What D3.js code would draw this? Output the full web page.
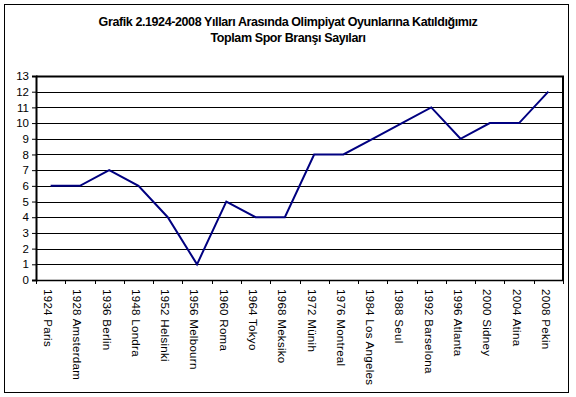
<!DOCTYPE html>
<html>
<head>
<meta charset="utf-8">
<script src="https://cdn.jsdelivr.net/npm/d3@7"></script>
<style>
  body { margin: 0; background: #fff; }
  svg { display: block; font-family: "Liberation Sans", Arial, sans-serif; }
</style>
</head>
<body>
<svg id="chart" width="576" height="397"></svg>
<script>
var cities = ["1924 Paris", "1928 Amsterdam", "1936 Berlin", "1948 Londra", "1952 Helsinki",
  "1956 Melbourn", "1960 Roma", "1964 Tokyo", "1968 Meksiko", "1972 Münih", "1976 Montreal",
  "1984 Los Angeles", "1988 Seul", "1992 Barselona", "1996 Atlanta", "2000 Sidney",
  "2004 Atina", "2008 Pekin"];
var branches = [6, 6, 7, 6, 4, 1, 5, 4, 4, 8, 8, 9, 10, 11, 9, 10, 10, 12];
var yTicks = d3.range(0, 14);
var titleLines = ["Grafik 2.1924-2008 Yılları Arasında Olimpiyat Oyunlarına Katıldığımız",
  "Toplam Spor Branşı Sayıları"];

(function(){

var svg = d3.select("#chart");
var plotLeft = 36, plotRight = 563, plotTop = 76, plotBottom = 280;

// outer frame
svg.append("rect").attr("x", 4.5).attr("y", 4.5).attr("width", 564).attr("height", 388)
  .attr("fill", "#fff").attr("stroke", "#000").attr("stroke-width", 1);

svg.selectAll("text.title").data(titleLines).enter().append("text")
  .attr("class", "title")
  .attr("x", 288).attr("y", function(d, i) { return 26 + i * 16; })
  .attr("text-anchor", "middle")
  .attr("font-size", 12.5).attr("font-weight", "bold").attr("letter-spacing", -0.4)
  .text(function(d) { return d; });

var x = d3.scaleBand().domain(cities).range([plotLeft, plotRight]);
var y = d3.scaleLinear().domain([0, 13]).range([plotBottom, plotTop]);

// gridlines
svg.append("g").selectAll("line").data(yTicks.slice(1)).enter().append("line")
  .attr("x1", plotLeft).attr("x2", plotRight)
  .attr("y1", function(d) { return Math.round(y(d)) + 0.5; })
  .attr("y2", function(d) { return Math.round(y(d)) + 0.5; })
  .attr("stroke", "#000").attr("stroke-width", 1);

// plot border top/right
svg.append("path")
  .attr("d", "M" + plotLeft + "," + (plotTop + 0.5) + "H" + plotRight + "V" + plotBottom)
  .attr("fill", "none").attr("stroke", "#000").attr("stroke-width", 2);

// y axis
var yAxis = svg.append("g").attr("transform", "translate(" + plotLeft + ",0)")
  .call(d3.axisLeft(y).tickValues(yTicks).tickSize(4).tickPadding(3));
yAxis.select(".domain").attr("stroke-width", 2);
yAxis.selectAll("text").attr("font-size", 11.5).attr("font-family", "Liberation Sans, Arial, sans-serif");

// x axis
var xAxis = svg.append("g").attr("transform", "translate(0," + plotBottom + ")")
  .call(d3.axisBottom(x).tickSize(0).tickFormat(""));
xAxis.select(".domain").attr("stroke-width", 1.5);
xAxis.selectAll("line.sep").data(cities.concat(["end"])).enter().append("line")
  .attr("class", "sep")
  .attr("x1", function(d, i) { return Math.round(plotLeft + i * x.step()) + 0.5; })
  .attr("x2", function(d, i) { return Math.round(plotLeft + i * x.step()) + 0.5; })
  .attr("y1", 0).attr("y2", 4).attr("stroke", "#000");

svg.append("g").selectAll("text").data(cities).enter().append("text")
  .attr("transform", function(d) {
    return "translate(" + (x(d) + x.bandwidth() / 2 - 2.5) + "," + (plotBottom + 9) + ") rotate(90)";
  })
  .attr("dy", "0.35em")
  .attr("font-size", 11.5).attr("letter-spacing", 0.3)
  .text(function(d) { return d; });

var line = d3.line()
  .x(function(d, i) { return x(cities[i]) + x.bandwidth() / 2; })
  .y(function(d) { return y(d); });

svg.append("path").datum(branches)
  .attr("d", line)
  .attr("fill", "none").attr("stroke", "#000080").attr("stroke-width", 2);

})();
</script>
</body>
</html>
